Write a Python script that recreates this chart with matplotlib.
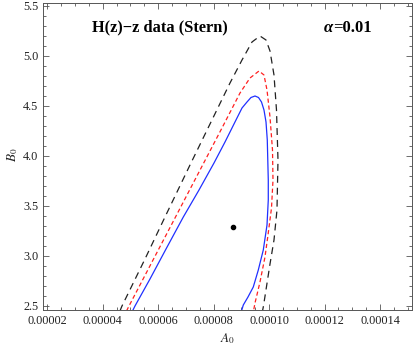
import matplotlib
matplotlib.use("Agg")
import matplotlib.pyplot as plt
from matplotlib.ticker import MultipleLocator, FuncFormatter

plt.rcParams['font.family'] = ['Liberation Serif', 'DejaVu Serif']
plt.rcParams['mathtext.fontset'] = 'stix'
plt.rcParams['lines.scale_dashes'] = False

# 99% contour (black, outer)
black_A = [4.62e-5, 4.694e-5, 5.524e-5, 6.245e-5, 7.147e-5, 7.869e-5, 8.590e-5, 9.023e-5,
           9.384e-5, 9.672e-5, 9.889e-5, 10.033e-5, 10.177e-5, 10.267e-5, 10.321e-5,
           10.285e-5, 10.177e-5, 10.033e-5, 9.798e-5, 9.762e-5]
black_B = [2.45, 2.50, 2.97, 3.39, 3.91, 4.32, 4.73, 4.96, 5.14, 5.20, 5.16, 5.05, 4.81,
           4.46, 3.96, 3.46, 3.16, 2.92, 2.50, 2.45]

# 95% contour (red)
red_A = [4.857e-5, 4.947e-5, 5.776e-5, 6.606e-5, 7.472e-5, 8.338e-5, 8.951e-5, 9.311e-5,
         9.636e-5, 9.816e-5, 9.925e-5, 10.033e-5, 10.123e-5, 10.141e-5, 10.087e-5,
         9.961e-5, 9.852e-5, 9.672e-5, 9.492e-5, 9.438e-5]
red_B = [2.45, 2.50, 2.94, 3.38, 3.84, 4.30, 4.63, 4.78, 4.85, 4.81, 4.66, 4.39, 4.06,
         3.76, 3.48, 3.21, 2.99, 2.74, 2.53, 2.45]

# 68% contour (blue)
blue_A = [5.073e-5, 5.163e-5, 5.704e-5, 6.282e-5, 6.906e-5, 7.472e-5, 8.013e-5, 8.410e-5,
          8.806e-5, 9.023e-5, 9.203e-5, 9.347e-5, 9.492e-5, 9.618e-5, 9.726e-5, 9.816e-5,
          9.889e-5, 9.935e-5, 9.971e-5, 9.971e-5, 9.925e-5, 9.791e-5, 9.611e-5, 9.430e-5,
          9.239e-5, 9.070e-5, 9.005e-5]
blue_B = [2.45, 2.50, 2.77, 3.07, 3.39, 3.66, 3.93, 4.14, 4.36, 4.48, 4.54, 4.585, 4.60,
          4.585, 4.54, 4.46, 4.34, 4.16, 3.76, 3.56, 3.31, 3.06, 2.86, 2.69, 2.59, 2.51, 2.45]

best_A = [8.71e-5]
best_B = [3.29]

x_ticks = [0.00002, 0.00004, 0.00006, 0.00008, 0.00010, 0.00012, 0.00014]
y_ticks = [2.5, 3.0, 3.5, 4.0, 4.5, 5.0, 5.5]

W, H = 415, 346
fig = plt.figure(figsize=(W / 100, H / 100), dpi=100)
ax = fig.add_axes([43 / W, 36 / H, 369 / W, 307 / H])

ax.plot(black_A, black_B, color='#222222', lw=0.9, linestyle=(0, (5, 3.6)))
ax.plot(red_A, red_B, color='#ff2020', lw=0.9, linestyle=(0, (3, 2)))
ax.plot(blue_A, blue_B, color='#2030ff', lw=0.9, linestyle='-')
ax.plot(best_A, best_B, 'o', color='black', ms=3)

ax.set_xlim(1.845e-5, 15.155e-5)
ax.set_ylim(2.46, 5.53)

ax.set_xticks(x_ticks)
ax.set_yticks(y_ticks)
ax.xaxis.set_major_formatter(FuncFormatter(lambda v, p: f"{v:.5f}"))
ax.yaxis.set_major_formatter(FuncFormatter(lambda v, p: f"{v:.1f}"))
ax.xaxis.set_minor_locator(MultipleLocator(0.000005))
ax.yaxis.set_minor_locator(MultipleLocator(0.1))

ax.tick_params(which='both', direction='in', top=True, right=True, colors='#555555',
               labelcolor='#222222', labelsize=8.8, width=0.6)
ax.tick_params(which='major', length=4)
ax.tick_params(which='minor', length=2.2)
for s in ax.spines.values():
    s.set_color('#555555')
    s.set_linewidth(0.7)

fig.text(228 / W, 1 - 339 / H, r"$A_0$", fontsize=9.5, color='#222222', ha='center', va='center')
fig.text(13 / W, 1 - 155 / H, r"$B_0$", fontsize=9.5, color='#222222', ha='center', va='center',
         rotation=90)

ax.text(0.318, 0.92, "H(z)\u2212z data (Stern)", transform=ax.transAxes, ha='center',
        va='center', fontsize=11.8, fontweight='bold', color='black')
ax.text(0.786, 0.92, "\u03b1", transform=ax.transAxes, ha='right',
        va='center', fontsize=12, fontweight='bold', fontstyle='italic', color='black')
ax.text(0.786, 0.92, "=0.01", transform=ax.transAxes, ha='left',
        va='center', fontsize=12, fontweight='bold', color='black')

fig.savefig("out.png", dpi=100)
